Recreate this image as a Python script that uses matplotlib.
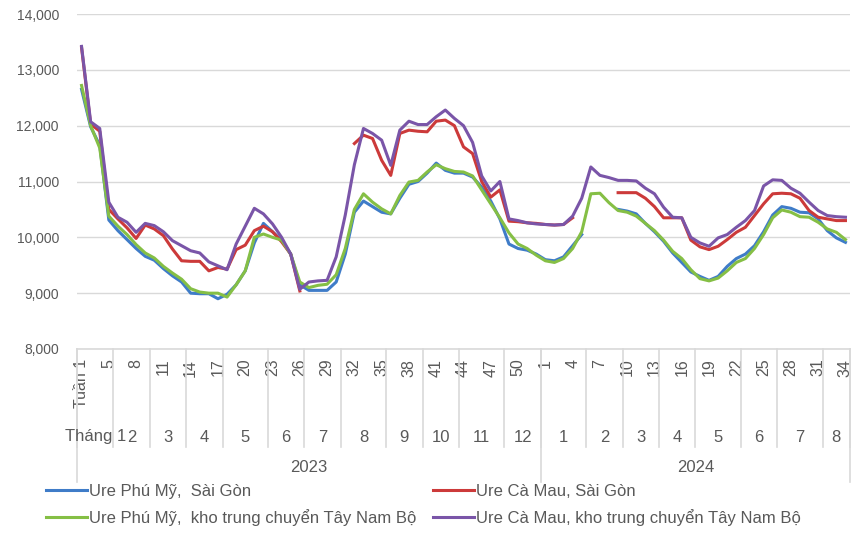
import numpy as np
import matplotlib
matplotlib.use("Agg")
import matplotlib.pyplot as plt
from matplotlib.transforms import blended_transform_factory

nan = np.nan

# ---------------- data ----------------
week_labels = (["Tuần 1", "2", "3"] + [str(w) for w in
               [5, 6, 7, 8, 9, 10, 11, 12, 13, 14, 15, 16, 17, 18, 19, 20, 21, 22, 23, 24, 25, 26, 27, 28,
                29, 30, 31, 32, 33, 34, 35, 36, 37, 38, 39, 40, 41, 42, 43, 44, 45, 46, 47, 48, 49, 50,
                51, 52,
                1, 2, 3, 4, 5, 6, 7, 8, 9, 10, 11, 12, 13, 14, 15, 16, 17, 18, 19, 20, 21, 22, 23, 24,
                25, 26, 27, 28, 29, 30, 31, 32, 33, 34]])

month_labels = ["Tháng 1", "2", "3", "4", "5", "6", "7", "8", "9", "10", "11", "12",
                "1", "2", "3", "4", "5", "6", "7", "8"]
month_counts = [4, 4, 4, 4, 5, 4, 4, 5, 4, 4, 5, 4,
                5, 4, 4, 4, 5, 4, 5, 3]
year_labels = ["2023", "2024"]
year_counts = [51, 34]

phu_my_sg = [12650, 11980, 11650, 10310, 10120, 9960, 9800, 9660, 9590, 9440,
             9310, 9200, 9000, 8990, 8990, 8900, 8980, 9150, 9400, 9900,
             10250, 10100, 9950, 9700, 9150, 9050, 9050, 9050, 9200, 9700,
             10450, 10650, 10550, 10450, 10420, 10700, 10950, 11000, 11150, 11330,
             11200, 11150, 11150, 11080, 10900, 10650, 10330, 9880, 9800, 9770,
             9700, 9600, 9580, 9650, 9850, 10050, nan, nan, nan, 10500,
             10470, 10420, 10250, 10100, 9930, 9720, 9550, 9380, 9300, 9230,
             9300, 9480, 9620, 9700, 9850, 10100, 10400, 10550, 10520, 10450,
             10440, 10330, 10120, 9990, 9910]

ca_mau_sg = [13400, 12030, 11900, 10500, 10330, 10170, 9980, 10220, 10150, 10030,
             9790, 9580, 9570, 9570, 9400, 9460, 9430, 9780, 9860, 10120,
             10200, 10100, 9920, 9700, 9040, nan, nan, nan, nan, nan,
             11680, 11830, 11770, 11380, 11110, 11860, 11920, 11900, 11890, 12080,
             12100, 12000, 11620, 11500, 11000, 10720, 10850, 10290, 10280, 10260,
             10250, 10230, 10220, 10230, 10350, nan, nan, nan, nan, 10800,
             10800, 10800, 10700, 10550, 10350, 10350, 10350, 9950, 9830, 9780,
             9840, 9960, 10090, 10180, 10390, 10600, 10780, 10790, 10780, 10700,
             10480, 10360, 10330, 10300, 10300]

phu_my_tnb = [12720, 12000, 11600, 10380, 10200, 10050, 9870, 9720, 9630, 9480,
              9360, 9250, 9080, 9020, 9000, 9000, 8930, 9150, 9400, 10000,
              10060, 10000, 9950, 9700, 9200, 9100, 9140, 9160, 9330, 9800,
              10500, 10780, 10630, 10510, 10420, 10750, 10990, 11020, 11170, 11300,
              11230, 11180, 11170, 11100, 10850, 10600, 10350, 10080, 9880, 9800,
              9680, 9580, 9550, 9620, 9800, 10100, 10780, 10790, 10620, 10480,
              10450, 10380, 10250, 10120, 9950, 9750, 9620, 9420, 9260, 9220,
              9270, 9400, 9550, 9620, 9800, 10050, 10350, 10490, 10450, 10370,
              10360, 10270, 10150, 10090, 9960]

ca_mau_tnb = [13420, 12070, 11950, 10630, 10360, 10270, 10090, 10250, 10210, 10100,
              9940, 9850, 9760, 9720, 9560, 9490, 9420, 9880, 10200, 10520,
              10420, 10240, 10000, 9700, 9070, 9200, 9220, 9230, 9650, 10400,
              11300, 11950, 11860, 11740, 11290, 11920, 12080, 12020, 12020, 12160,
              12280, 12130, 12000, 11700, 11100, 10830, 11000, 10330, 10300, 10260,
              10240, 10230, 10220, 10230, 10380, 10700, 11260, 11110, 11070, 11020,
              11020, 11010, 10880, 10780, 10540, 10360, 10350, 10000, 9900, 9840,
              9990, 10050, 10180, 10300, 10480, 10920, 11030, 11020, 10880, 10790,
              10630, 10480, 10390, 10370, 10360]

series_names = ["Ure Phú Mỹ,  Sài Gòn", "Ure Cà Mau, Sài Gòn",
                "Ure Phú Mỹ,  kho trung chuyển Tây Nam Bộ",
                "Ure Cà Mau, kho trung chuyển Tây Nam Bộ"]

# ---------------- style ----------------
plt.rcParams['font.family'] = ['Liberation Sans', 'DejaVu Sans']
TXT = "#595959"
GRID = "#d9d9d9"
colors = ["#3f7cc8", "#cc3a3a", "#85bf45", "#7a55a8"]

fig = plt.figure(figsize=(8.6, 5.4), dpi=100)
ax = fig.add_axes([77 / 860, 1 - 349 / 540, (850 - 77) / 860, (349 - 14) / 540])

x = np.arange(len(week_labels))
data = [phu_my_sg, ca_mau_sg, phu_my_tnb, ca_mau_tnb]
lines = []
for vals, c, name in zip(data, colors, series_names):
    ln, = ax.plot(x, vals, color=c, lw=2.2, solid_joinstyle='round', label=name, zorder=3)
    lines.append(ln)

ax.set_xlim(-0.5, len(week_labels) - 0.5)
ax.set_ylim(8000, 14000)
ax.set_yticks(np.arange(8000, 14001, 1000))
ax.yaxis.set_major_formatter(matplotlib.ticker.FuncFormatter(lambda v, p: f"{int(v):,}"))
ax.grid(axis='y', color=GRID, lw=1)
ax.set_axisbelow(True)
for s in ["left", "right", "top"]:
    ax.spines[s].set_visible(False)
ax.spines["bottom"].set_color(GRID)
ax.spines["bottom"].set_linewidth(1.2)
ax.tick_params(axis='y', length=0, pad=13, labelsize=10, labelcolor=TXT)

tick_idx = x[::3]
ax.set_xticks(tick_idx)
ax.set_xticklabels([week_labels[i] for i in tick_idx], rotation=90, va='top', ha='center')
ax.tick_params(axis='x', length=0, pad=7, labelsize=11.5, labelcolor=TXT)

tr = blended_transform_factory(ax.transData, ax.transAxes)
ax_h = 349 - 14

# month groups
start = 0
bounds = [-0.5]
for lab, n in zip(month_labels, month_counts):
    center = start + (n - 1) / 2
    ax.text(center, -(437 - 349) / ax_h, lab, transform=tr, ha='center', va='center',
            fontsize=12, color=TXT)
    start += n
    bounds.append(start - 0.5)
for b in bounds:
    ax.plot([b, b], [0, -(447 - 349) / ax_h], transform=tr, color=GRID, lw=1.2, clip_on=False)

# year groups
start = 0
ybounds = [-0.5]
for lab, n in zip(year_labels, year_counts):
    center = start + (n - 1) / 2
    ax.text(center, -(468 - 349) / ax_h, lab, transform=tr, ha='center', va='center',
            fontsize=12, color=TXT)
    start += n
    ybounds.append(start - 0.5)
for b in ybounds:
    ax.plot([b, b], [0, -(482 - 349) / ax_h], transform=tr, color=GRID, lw=1.2, clip_on=False)

# legend: two column groups
leg_kw = dict(frameon=False, fontsize=12, handlelength=2.45, handletextpad=0.12,
              labelspacing=0.6, borderpad=0, borderaxespad=0, labelcolor=TXT, loc='upper left')
leg1 = fig.legend([lines[0], lines[2]], [series_names[0], series_names[2]],
                  bbox_to_anchor=(46 / 860, 1 - 484 / 540), **leg_kw)
leg2 = fig.legend([lines[1], lines[3]], [series_names[1], series_names[3]],
                  bbox_to_anchor=(433 / 860, 1 - 484 / 540), **leg_kw)

fig.savefig("out.png", dpi=100)
